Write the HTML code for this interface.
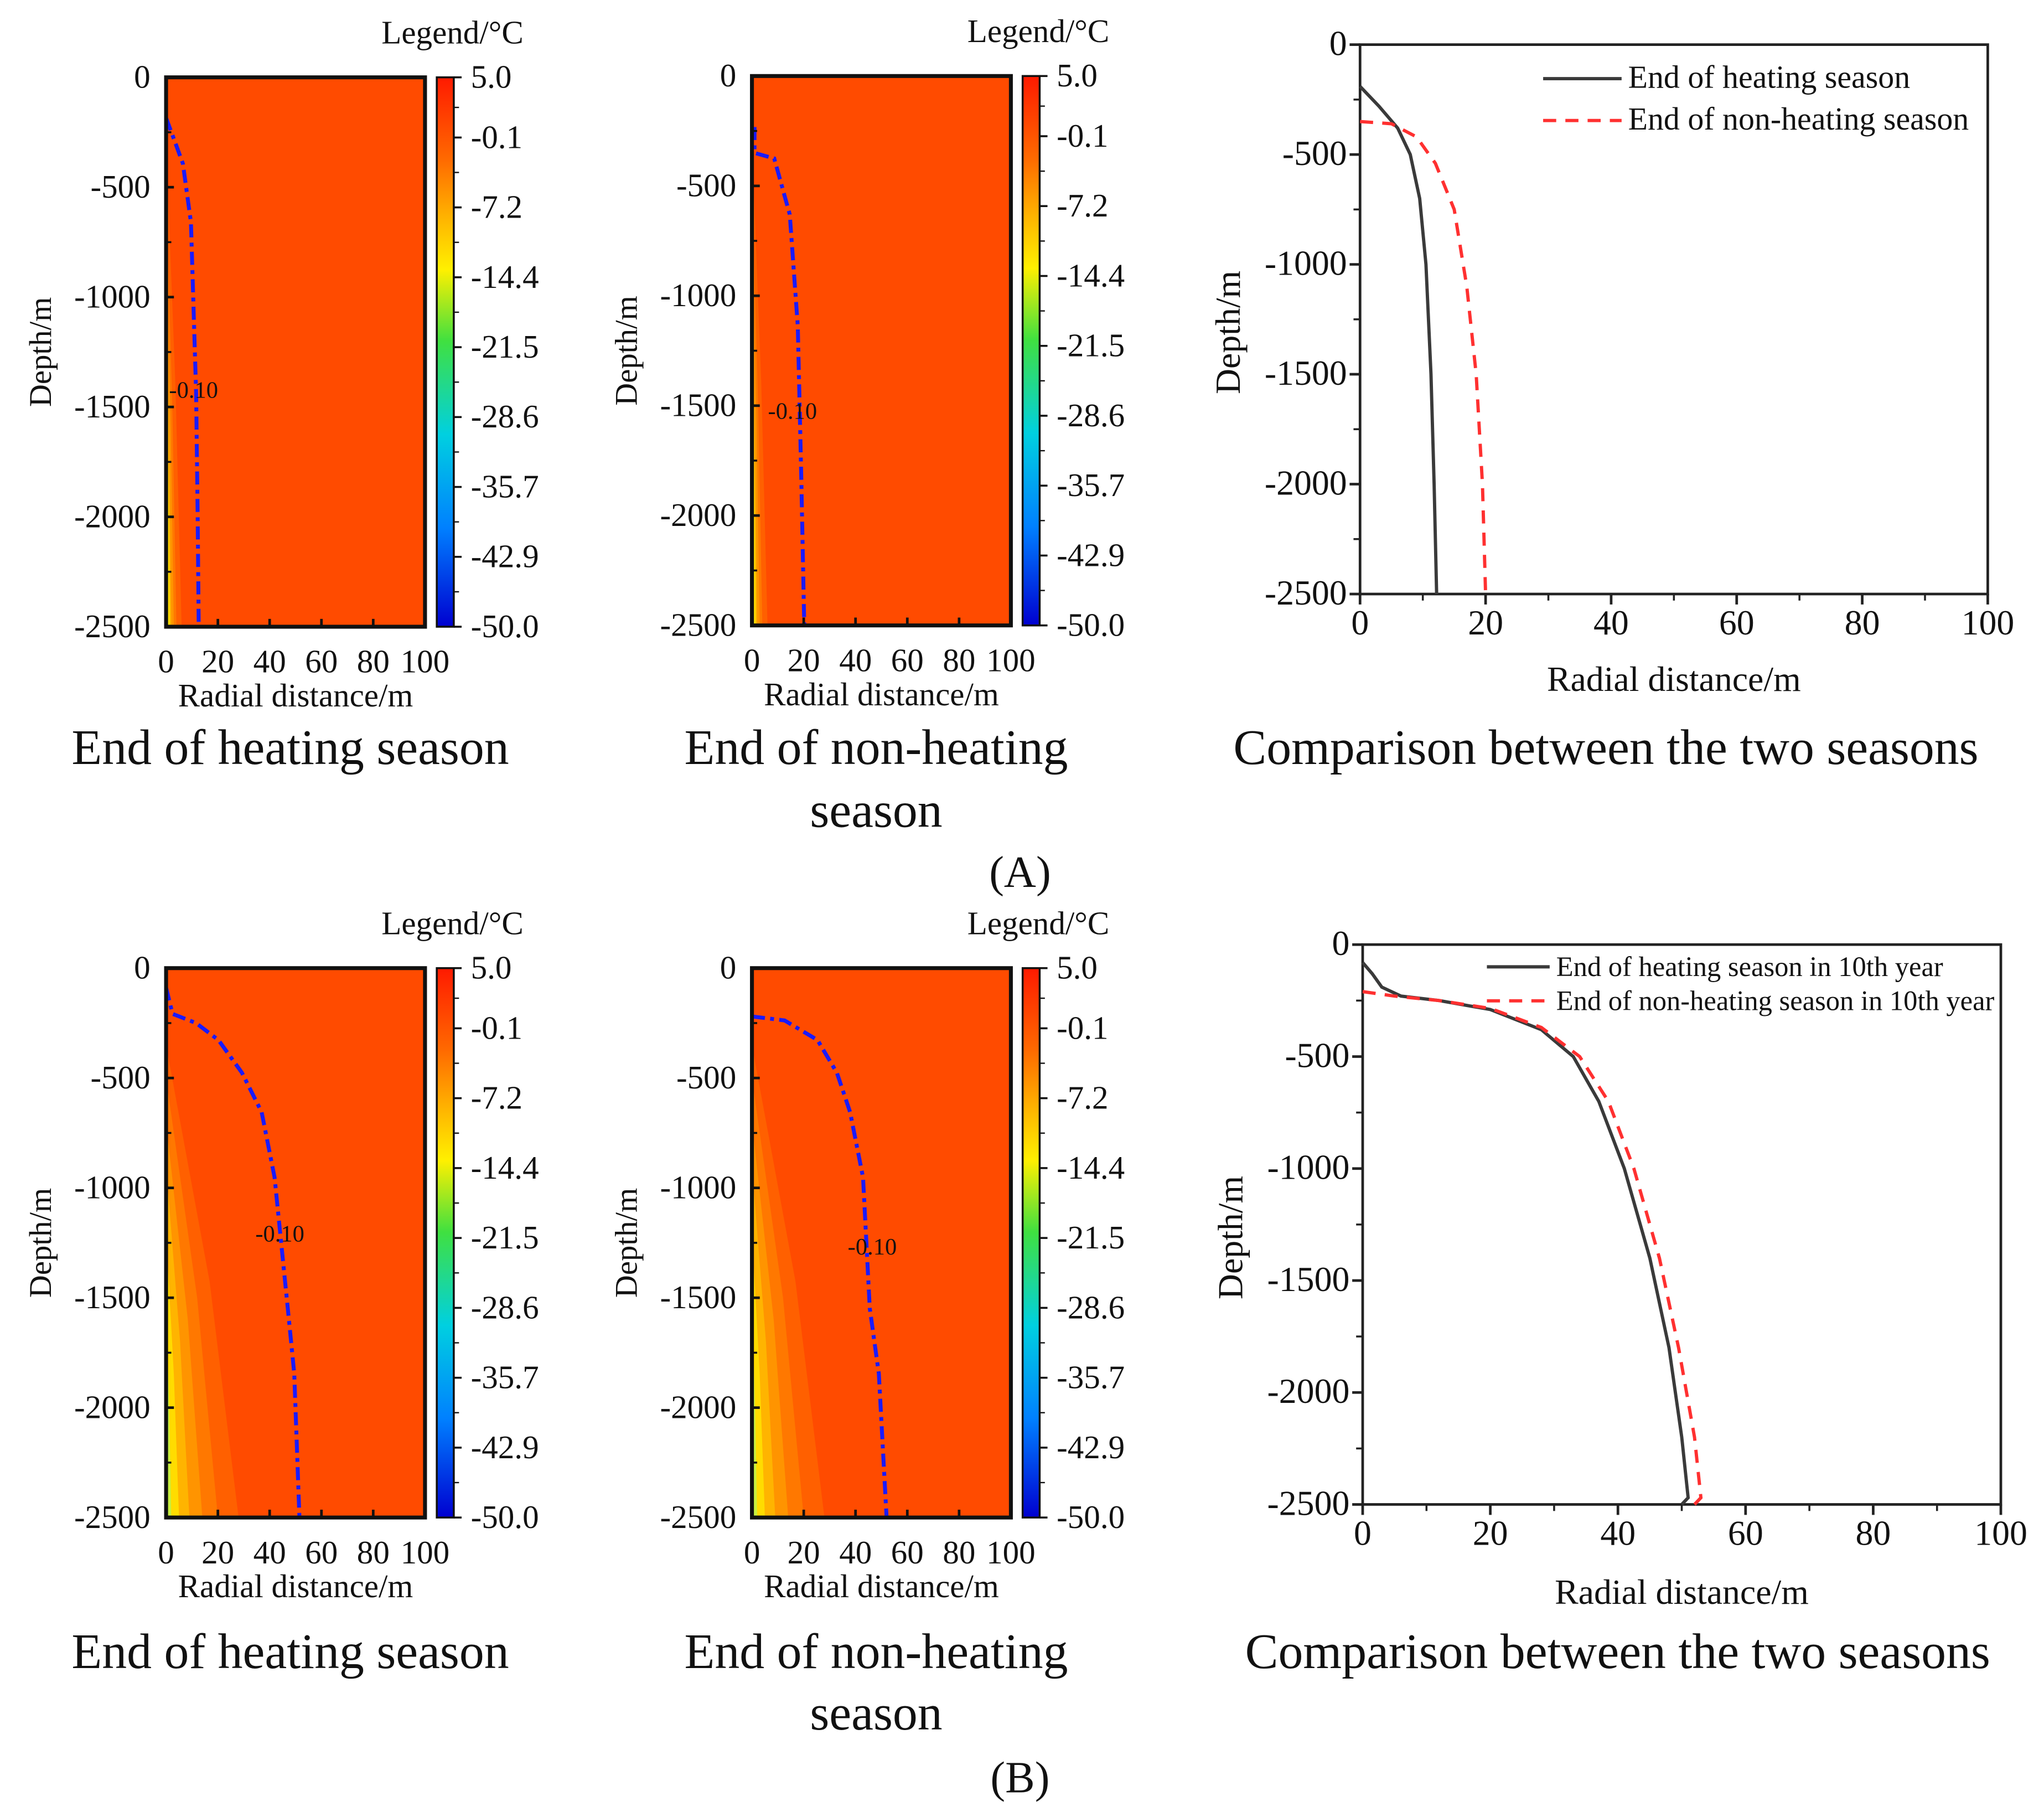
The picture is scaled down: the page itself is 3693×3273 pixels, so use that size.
<!DOCTYPE html>
<html><head><meta charset="utf-8"><style>
html,body{margin:0;padding:0;background:#fff}
svg{display:block}
text{font-family:"Liberation Serif",serif;fill:#111}
</style></head><body>
<svg id="fig" width="3693" height="3273" viewBox="0 0 1563 1385" xmlns="http://www.w3.org/2000/svg">
<defs>
<linearGradient id="cb" x1="0" y1="0" x2="0" y2="1">
<stop offset="0" stop-color="#ff1a00"/><stop offset="0.15" stop-color="#ff6a00"/>
<stop offset="0.25" stop-color="#ffb000"/><stop offset="0.35" stop-color="#fff000"/>
<stop offset="0.48" stop-color="#40e040"/><stop offset="0.65" stop-color="#00d0e0"/>
<stop offset="0.82" stop-color="#0080ff"/><stop offset="1" stop-color="#0000d0"/>
</linearGradient>
</defs>
</svg>
<script>
const NS='http://www.w3.org/2000/svg';
const svg=document.getElementById('fig');
function el(tag,attrs,parent,txt){const e=document.createElementNS(NS,tag);for(const k in attrs)e.setAttribute(k,attrs[k]);if(txt!==undefined)e.textContent=txt;(parent||svg).appendChild(e);return e;}

// ---- data ----
const xTicksMap=[0,20,40,60,80,100];
const yTicks=[0,-500,-1000,-1500,-2000,-2500];
const cbLabels=['5.0','-0.1','-7.2','-14.4','-21.5','-28.6','-35.7','-42.9','-50.0'];
const a1R=[0,3,6.5,9.6,11.6,12.2,12.6];
const a1D=[-185,-280,-393,-660,-1435,-2000,-2500];
const a2R=[1,1,8.6,14.6,17.7,19,20.2];
const a2D=[-232,-350,-375,-630,-1137,-1800,-2500];
const a3HeatR=[0,3,6,8,9.5,10.5,11.3,11.8,12.2];
const a3HeatD=[-190,-280,-380,-500,-700,-1000,-1500,-2000,-2500];
const a3NonR=[0,5,9,12,15,17,18.5,19.5,20];
const a3NonD=[-350,-360,-420,-540,-750,-1100,-1500,-2000,-2500];
const b1R=[0,2.5,11.6,20.2,29.3,36.9,41.9,47,49.5,51.5];
const b1D=[-89,-208,-250,-327,-476,-655,-952,-1548,-1845,-2500];
const b2R=[0,12.6,25.3,32.8,37.9,42.9,45.5,49,52];
const b2D=[-220,-238,-327,-476,-655,-952,-1548,-1845,-2500];
const b3HeatR=[0,1.5,3,6,12,20,28,33,37,41,45,48,50,51,50];
const b3HeatD=[-80,-130,-190,-230,-250,-290,-380,-500,-700,-1000,-1400,-1800,-2200,-2470,-2500];
const b3NonR=[0,5,12,20,28,34,38.5,42.5,46.5,49.5,52,53,52];
const b3NonD=[-210,-230,-250,-285,-370,-500,-700,-1000,-1400,-1800,-2200,-2470,-2500];
const bandColors=['#ff6000','#ff7800','#ff9400','#ffb400','#ffdc00','#c8f040'];
const bandsA=[[-300,6],[-500,4],[-700,3],[-900,2],[-1200,1.5],[-1500,0.8]];
const bandsB=[[-350,28],[-500,20],[-700,14],[-900,9],[-1200,5],[-1500,2]];

function mapPanel(x0,y0,name,R,D,lblX,lblY,bands){
  const w=198,h=420;
  const g=el('g',{});
  const sx=v=>x0+v/100*w, sy=v=>y0+(-v)/2500*h;
  el('rect',{x:x0,y:y0,width:w,height:h,fill:'#ff4b00'},g);
  bands.forEach((b,i)=>{
    const p=el('polygon',{points:`${sx(0)},${sy(b[0])} ${sx(b[1]*0.6)},${sy((b[0]-2500)/2)} ${sx(b[1])},${sy(-2500)} ${sx(0)},${sy(-2500)}`,fill:bandColors[i]},g);
    
    
  });
  const pts=R.map((r,i)=>sx(r)+','+sy(D[i])).join(' ');
  const cl=el('polyline',{points:pts,fill:'none',stroke:'#1a1aff','stroke-width':3,'stroke-dasharray':'10,4,3,4'},g);
  
  
  const cll=el('text',{x:lblX,y:lblY,'font-size':18,'text-anchor':'middle'},g,'-0.10');
  
  
  el('rect',{x:x0,y:y0,width:w,height:h,fill:'none',stroke:'#111','stroke-width':3},g);
  yTicks.forEach(t=>{
    el('line',{x1:x0,x2:x0+6,y1:sy(t),y2:sy(t),stroke:'#111','stroke-width':2},g);
    const tl=el('text',{x:x0-12,y:sy(t)+8,'font-size':25,'text-anchor':'end'},g,t);
    
    
  });
  for(let t=-250;t>-2500;t-=500) el('line',{x1:x0,x2:x0+4,y1:sy(t),y2:sy(t),stroke:'#111','stroke-width':1.5},g);
  xTicksMap.forEach(t=>{
    el('line',{x1:sx(t),x2:sx(t),y1:y0+h,y2:y0+h-6,stroke:'#111','stroke-width':2},g);
    const tl=el('text',{x:sx(t),y:y0+h+35,'font-size':25,'text-anchor':'middle'},g,t);
    
    
  });
  const xt=el('text',{x:x0+w/2,y:y0+h+61,'font-size':25,'text-anchor':'middle'},g,'Radial distance/m');
  
  
  const yt=el('text',{x:0,y:0,'font-size':24,'text-anchor':'middle',transform:`translate(${x0-88},${y0+210}) rotate(-90)`},g,'Depth/m');
  
  
  const cx=x0+207;
  const cb=el('rect',{x:cx,y:y0,width:13,height:h,fill:'url(#cb)',stroke:'#111','stroke-width':1.5},g);
  
  
  const n=cbLabels.length-1;
  const cbY=i=>i===0?y0:y0+46+(i-1)*(h-46)/(n-1);
  cbLabels.forEach((l,i)=>{
    const yy=cbY(i);
    el('line',{x1:cx+13,x2:cx+19,y1:yy,y2:yy,stroke:'#111','stroke-width':1.5},g);
    const tl=el('text',{x:cx+26,y:yy+8,'font-size':25},g,l);
    
    
  });
  for(let i=0;i<n;i++){const yy=(cbY(i)+cbY(i+1))/2;el('line',{x1:cx+13,x2:cx+17,y1:yy,y2:yy,stroke:'#111','stroke-width':1},g);}
  const lt=el('text',{x:cx+12,y:y0-26,'font-size':25,'text-anchor':'middle'},g,'Legend/°C');
  
  
}

function linePanel(x0,y0,w,h,name,series,legX,legY,legGap,legFont,xTitleY){
  const g=el('g',{});
  const sx=v=>x0+v/100*w, sy=v=>y0+(-v)/2500*h;
  el('rect',{x:x0,y:y0,width:w,height:h,fill:'none',stroke:'#222','stroke-width':2},g);
  yTicks.forEach(t=>{
    el('line',{x1:x0,x2:x0-8,y1:sy(t),y2:sy(t),stroke:'#222','stroke-width':2},g);
    const tl=el('text',{x:x0-10,y:sy(t)+8,'font-size':27,'text-anchor':'end'},g,t);
    
    
  });
  for(let t=-250;t>-2500;t-=500) el('line',{x1:x0,x2:x0-5,y1:sy(t),y2:sy(t),stroke:'#222','stroke-width':1.5},g);
  xTicksMap.forEach(t=>{
    el('line',{x1:sx(t),x2:sx(t),y1:y0+h,y2:y0+h+8,stroke:'#222','stroke-width':2},g);
    const tl=el('text',{x:sx(t),y:y0+h+31,'font-size':27,'text-anchor':'middle'},g,t);
    
    
  });
  for(let t=10;t<100;t+=20) el('line',{x1:sx(t),x2:sx(t),y1:y0+h,y2:y0+h+5,stroke:'#222','stroke-width':1.5},g);
  const xt=el('text',{x:x0+w/2,y:xTitleY,'font-size':27,'text-anchor':'middle'},g,'Radial distance/m');
  
  
  const yt=el('text',{x:0,y:0,'font-size':27,'text-anchor':'middle',transform:`translate(${x0-92},${y0+h/2+10}) rotate(-90)`},g,'Depth/m');
  
  
  series.forEach((s,i)=>{
    const p=el('polyline',{points:s.R.map((r,j)=>sx(r)+','+sy(s.D[j])).join(' '),fill:'none',stroke:s.c,'stroke-width':2.5,'stroke-dasharray':s.dash},g);
    
    
    const ly=legY+i*legGap;
    const sw=legFont>22?60:48;
    const ll=el('line',{x1:legX,x2:legX+sw,y1:ly,y2:ly,stroke:s.c,'stroke-width':2.5,'stroke-dasharray':s.dash},g);
    
    
    const lt=el('text',{x:legX+sw+5,y:ly+7,'font-size':legFont},g,s.label);
    
    
  });
}
function cap(x,y,t,size,name){const c=el('text',{x:x,y:y,'font-size':size,'text-anchor':'middle'},svg,t);}

mapPanel(127,59,'map-a-heating',a1R,a1D,148,304,bandsA);
mapPanel(575,58,'map-a-nonheating',a2R,a2D,606,320,bandsA);
linePanel(1040,34,480,420,'chart-a-comparison',[
 {R:a3HeatR,D:a3HeatD,c:'#3a3a3a',dash:'none',n:'line-heating',label:'End of heating season'},
 {R:a3NonR,D:a3NonD,c:'#ff3030',dash:'10,7',n:'line-nonheating',label:'End of non-heating season'}],1180,60,32,24.5,528);
mapPanel(127,740,'map-b-heating',b1R,b1D,214,949,bandsB);
mapPanel(575,740,'map-b-nonheating',b2R,b2D,667,959,bandsB);
linePanel(1042,722,488,428,'chart-b-comparison',[
 {R:b3HeatR,D:b3HeatD,c:'#3a3a3a',dash:'none',n:'line-heating-10th-year',label:'End of heating season in 10th year'},
 {R:b3NonR,D:b3NonD,c:'#ff3030',dash:'10,7',n:'line-nonheating-10th-year',label:'End of non-heating season in 10th year'}],1137,739,26,21.4,1226);

cap(222,584,'End of heating season',38,'caption-a-heating');
cap(670,584,'End of non-heating',38,'caption-a-nonheating');
cap(670,632,'season',38,'caption-a-nonheating-2');
cap(1228,584,'Comparison between the two seasons',38,'caption-a-comparison');
cap(780,678,'(A)',34,'panel-label-a');
cap(222,1275,'End of heating season',38,'caption-b-heating');
cap(670,1275,'End of non-heating',38,'caption-b-nonheating');
cap(670,1322,'season',38,'caption-b-nonheating-2');
cap(1237,1275,'Comparison between the two seasons',38,'caption-b-comparison');
cap(780,1370,'(B)',34,'panel-label-b');
</script>
</body></html>
